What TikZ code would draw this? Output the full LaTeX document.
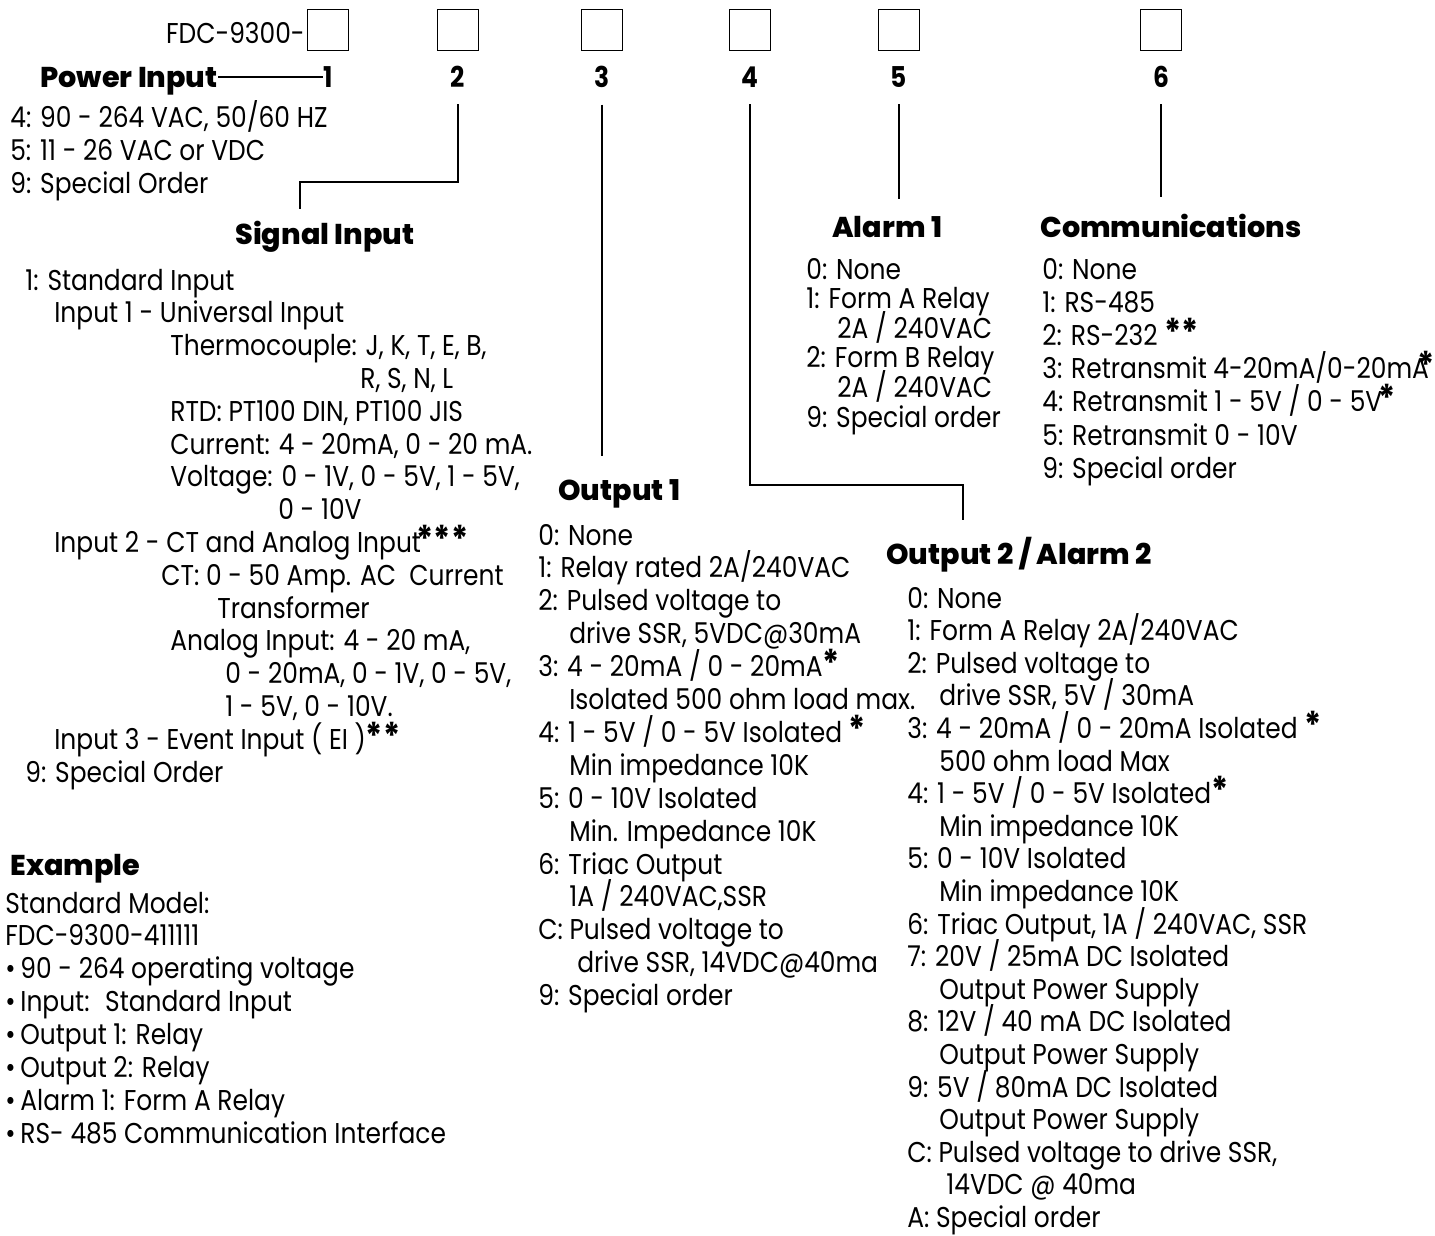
\documentclass[tikz,border=0pt]{standalone}
\usepackage{fontspec}
\setmainfont{Poppins}[FakeStretch=0.87]
\newfontfamily\headfont{Poppins}[FakeStretch=1.0, BoldFont=* ExtraBold]
\usetikzlibrary{positioning}

\newcommand\asx{{\fontsize{21}{21}\selectfont\bfseries *}}

\tikzset{
  item/.style={anchor=base west, inner sep=0pt, font=\fontsize{16.3}{18}\selectfont},
  head/.style={item, font=\fontsize{16.3}{18}\selectfont\headfont\bfseries},
  digit/.style={anchor=base, inner sep=0pt, font=\fontsize{16.3}{18}\selectfont\bfseries},
  slot/.style={draw, line width=1.1pt, minimum size=0.82cm, inner sep=0pt},
  link/.style={line width=1.1pt},
}

\begin{document}
\begin{tikzpicture}[x=0.02cm, y=-0.02cm]
	\useasboundingbox (0,0) rectangle (1435,1235);
	% code boxes and position numbers
	\foreach \xx [count=\i] in {328,458,602,750,899,1161}{
		\node[slot] (box\i) at (\xx,30) {};
		\node[digit] (n\i) at (\xx,87) {\i};
	}
	\node[item, anchor=base east] (model) at (305,43) {FDC-9300-};
	
	% headings
	\node[head] (hpow) at (40,87) {Power Input};
	\node[head] (hsig) at (235,244) {Signal Input};
	\node[head] (halm) at (832,237) {Alarm 1};
	\node[head] (hcom) at (1040,237) {Communications};
	\node[head] (hout1) at (558,500) {Output 1};
	\node[head] (hout2) at (886,564) {Output 2 / Alarm 2};
	\node[head] (hex) at (10,875) {Example};
	
	% power input
	\foreach \lbl [count=\i] in {{4: 90 - 264 VAC, 50/60 HZ}, {5: 11 - 26 VAC or VDC}, {9: Special Order}}
		\node[item] (pow\i) at (10,{127+33*(\i-1)}) {\lbl};
	
	% signal input
	\foreach \xx/\lbl [count=\i] in {25/{1: Standard Input}, 54/{Input 1 - Universal Input},
		170/{Thermocouple: J, K, T, E, B,}, 360/{R, S, N, L}, 170/{RTD: PT100 DIN, PT100 JIS},
		170/{Current: 4 - 20mA, 0 - 20 mA.}, 170/{Voltage: 0 - 1V, 0 - 5V, 1 - 5V,}, 278/{0 - 10V},
		54/{Input 2 - CT and Analog Input\kern-0.15em\asx\asx\asx}, 161/{CT: 0 - 50 Amp. AC~ Current}, 217/{Transformer},
		170/{Analog Input: 4 - 20 mA,}, 225/{0 - 20mA, 0 - 1V, 0 - 5V,}, 225/{1 - 5V, 0 - 10V.},
		54/{Input 3 - Event Input ( EI )\asx\asx}, 25/{9: Special Order}}
		\node[item] (sig\i) at (\xx,{290+32.8*(\i-1)}) {\lbl};
	
	% output 1
	\foreach \xx/\lbl [count=\i] in {538/{0: None}, 538/{1: Relay rated 2A/240VAC}, 538/{2: Pulsed voltage to},
		569/{drive SSR, 5VDC@30mA}, 538/{3: 4 - 20mA / 0 - 20mA\asx}, 569/{Isolated 500 ohm load max.},
		538/{4: 1 - 5V / 0 - 5V Isolated \asx}, 569/{Min impedance 10K}, 538/{5: 0 - 10V Isolated},
		569/{Min. Impedance 10K}, 538/{6: Triac Output}, 569/{1A / 240VAC,SSR},
		538/{C: Pulsed voltage to}, 577/{drive SSR, 14VDC@40ma}, 538/{9: Special order}}
		\node[item] (o1-\i) at (\xx,{545+32.9*(\i-1)}) {\lbl};
	
	% output 2 / alarm 2
	\foreach \xx/\lbl [count=\i] in {907/{0: None}, 907/{1: Form A Relay 2A/240VAC}, 907/{2: Pulsed voltage to},
		939/{drive SSR, 5V / 30mA}, 907/{3: 4 - 20mA / 0 - 20mA Isolated \asx}, 939/{500 ohm load Max},
		907/{4: 1 - 5V / 0 - 5V Isolated\asx}, 939/{Min impedance 10K}, 907/{5: 0 - 10V Isolated},
		939/{Min impedance 10K}, 907/{6: Triac Output, 1A / 240VAC, SSR}, 907/{7: 20V / 25mA DC Isolated},
		939/{Output Power Supply}, 907/{8: 12V / 40 mA DC Isolated}, 939/{Output Power Supply},
		907/{9: 5V / 80mA DC Isolated}, 939/{Output Power Supply}, 907/{C: Pulsed voltage to drive SSR,},
		946/{14VDC @ 40ma}, 907/{A: Special order}}
		\node[item] (o2-\i) at (\xx,{608+32.6*(\i-1)}) {\lbl};
	
	% alarm 1
	\foreach \xx/\lbl [count=\i] in {806/{0: None}, 806/{1: Form A Relay}, 837/{2A / 240VAC},
		806/{2: Form B Relay}, 837/{2A / 240VAC}, 806/{9: Special order}}
		\node[item] (al\i) at (\xx,{279+29.6*(\i-1)}) {\lbl};
	
	% communications
	\foreach \lbl [count=\i] in {{0: None}, {1: RS-485}, {2: RS-232 \asx\asx}, {3: Retransmit 4-20mA/0-20mA\kern-0.4em\asx},
		{4: Retransmit 1 - 5V / 0 - 5V\kern-0.15em\asx}, {5: Retransmit 0 - 10V}, {9: Special order}}
		\node[item] (com\i) at (1042,{279+33.2*(\i-1)}) {\lbl};
	
	% example
	\foreach \lbl [count=\i] in {{Standard Model:}, {FDC-9300-411111}, {\textbullet\,90 - 264 operating voltage},
		{\textbullet\,Input:~ Standard Input}, {\textbullet\,Output 1: Relay}, {\textbullet\,Output 2: Relay},
		{\textbullet\,Alarm 1: Form A Relay}, {\textbullet\,RS- 485 Communication Interface}}
		\node[item] (ex\i) at (5,{913+32.9*(\i-1)}) {\lbl};
	
	% leader lines
	\draw[link] (hpow.east |- n1.west) -- (n1.west);
	\coordinate (b2) at (300,182);
	\draw[link, shorten <=0.34cm, shorten >=0.22cm] (n2.south) |- (b2) -- (b2 |- hsig.north);
	\draw[link, shorten <=0.34cm, shorten >=0.46cm] (n3.south) -- (n3.south |- hout1.north);
	\coordinate (b4) at (963,485);
	\draw[link, shorten <=0.34cm, shorten >=0.32cm] (n4.south) |- (b4) -- (b4 |- hout2.north);
	\draw[link, shorten <=0.34cm, shorten >=0.32cm] (n5.south) -- (n5.south |- halm.north);
	\draw[link, shorten <=0.34cm, shorten >=0.32cm] (n6.south) -- (n6.south |- hcom.north);
\end{tikzpicture}
\end{document}
